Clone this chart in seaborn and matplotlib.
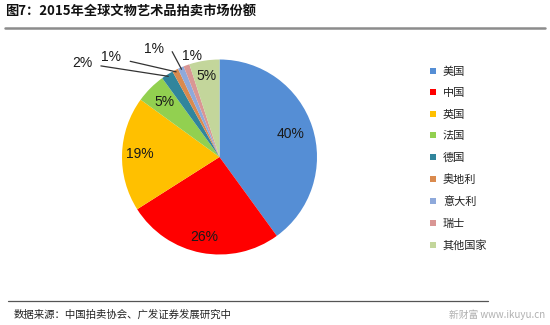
import numpy as np
import matplotlib
matplotlib.use("Agg")
import matplotlib.pyplot as plt
from matplotlib.lines import Line2D
import seaborn as sns

categories = ["美国", "中国", "英国", "法国", "德国", "奥地利", "意大利", "瑞士", "其他国家"]
shares = [40, 26, 19, 5, 2, 1, 1, 1, 5]
colors = ["#558ED5", "#FF0000", "#FFC000", "#92D050", "#31859C",
          "#DA8A4E", "#8EA9DB", "#D99694", "#C3D69B"]
title = "图7：2015年全球文物艺术品拍卖市场份额"
source = "数据来源：中国拍卖协会、广发证券发展研究中"
watermark = "新财富 www.ikuyu.cn"

sns.set_theme(style="white")
plt.rcParams['font.family'] = ['Noto Sans CJK SC', 'DejaVu Sans']

palette = sns.color_palette(colors)

W, H = 550, 325
fig = plt.figure(figsize=(W / 100, H / 100), dpi=100)
fig.patch.set_facecolor("white")

cx, cy, R = 219.5, 157, 97.5
ax = fig.add_axes([(cx - R) / W, 1 - (cy + R) / H, 2 * R / W, 2 * R / H])
wedges, _ = ax.pie(shares, colors=palette, startangle=90, counterclock=False,
                   radius=1.0, wedgeprops=dict(linewidth=0))
ax.set_xlim(-1, 1)
ax.set_ylim(-1, 1)
ax.set_aspect("equal")
ax.axis("off")

pct_font = dict(family=["Liberation Sans", "DejaVu Sans"], fontsize=10, color="#1a1a1a")

def px2data(px, py):
    return (px - cx) / R, (cy - py) / R

# inner labels
inner = {0: 0.77, 1: 0.84, 2: 0.82, 3: 0.8, 8: 0.84}
for i, w in enumerate(wedges):
    mid = np.deg2rad((w.theta1 + w.theta2) / 2)
    lab = f"{shares[i]}%"
    if i in inner:
        r = inner[i]
        ax.text(r * np.cos(mid), r * np.sin(mid), lab, ha="center", va="center", **pct_font)

# outer labels with leader lines
outer_pos = {4: (82, 63), 5: (111.5, 57), 6: (154, 49), 7: (192, 56)}
conn = {4: "arc3", 5: "arc3", 6: "angle,angleA=0,angleB=118,rad=0", 7: "arc3"}
for i, (px, py) in outer_pos.items():
    w = wedges[i]
    mid = np.deg2rad((w.theta1 + w.theta2) / 2)
    tx, ty = px2data(px, py)
    if i == 7:
        ax.text(tx, ty, f"{shares[i]}%", ha="center", va="center", clip_on=False, **pct_font)
        continue
    ax.annotate(f"{shares[i]}%", xy=(0.98 * np.cos(mid), 0.98 * np.sin(mid)),
                xytext=(tx, ty), ha="center", va="center", annotation_clip=False,
                arrowprops=dict(arrowstyle="-", color="#333333", lw=0.9,
                                connectionstyle=conn[i], shrinkA=4, shrinkB=0),
                **pct_font)

# legend
handles = [Line2D([], [], marker="s", linestyle="none", markersize=5,
                  markerfacecolor=c, markeredgewidth=0) for c in palette]
leg = fig.legend(handles, categories, loc="upper left",
                 bbox_to_anchor=(424 / W, 1 - 62 / H), frameon=False,
                 fontsize=8, labelspacing=1.03, handlelength=0.8,
                 handletextpad=0.5, borderaxespad=0)
for t in leg.get_texts():
    t.set_color("#222222")

# title, rules and footer
fig.text(5 / W, 1 - 11 / H, title, fontsize=9.5, fontweight="bold",
         ha="left", va="center", color="#111111")
fig.add_artist(Line2D([5 / W, 545 / W], [1 - 27.5 / H] * 2, color="#8c8c8c", lw=1.8))
fig.add_artist(Line2D([8 / W, 488 / W], [1 - 300.5 / H] * 2, color="#555555", lw=0.9))
fig.text(14 / W, 1 - 315 / H, source, fontsize=7.5, ha="left", va="center", color="#222222")
fig.text(545 / W, 1 - 315 / H, watermark, fontsize=7, ha="right", va="center", color="#b0b0b0")

fig.savefig("out.png", dpi=100, facecolor="white")
